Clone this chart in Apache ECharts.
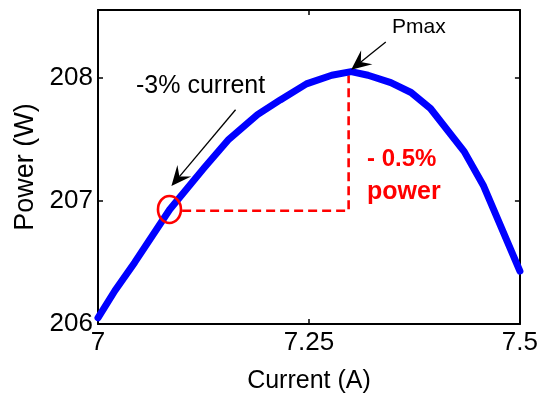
<!DOCTYPE html>
<html>
<head>
<meta charset="utf-8">
<script src="https://cdn.jsdelivr.net/npm/echarts@6/dist/echarts.min.js"></script>
<style>
html,body{margin:0;padding:0;background:#fff;}
#chart{width:541px;height:400px;}
</style>
</head>
<body>
<div id="chart"></div>
<script>
// ---- data ----
const currentA = [7.0, 7.02, 7.0435, 7.085, 7.126, 7.155, 7.189, 7.216, 7.247, 7.277, 7.30, 7.32, 7.347, 7.371, 7.394, 7.434, 7.457, 7.5];
const powerW   = [206.05, 206.27, 206.50, 206.93, 207.27, 207.50, 207.70, 207.82, 207.95, 208.02, 208.05, 208.02, 207.96, 207.88, 207.75, 207.40, 207.12, 206.43];
const xTicks = [7, 7.25, 7.5];
const yTicks = [206, 207, 208];
// annotation geometry (data units)
const pmaxArrow = [7.341, 208.29, 7.300, 208.065];
const currentArrow = [7.163, 207.74, 7.087, 207.12];
const operatingPoint = [7.0847, 206.93];
const guideX = [7.0997, 7.297, 7.297];
const guideY = [206.92, 206.92, 208.02];

const FONT = '"Liberation Sans", Arial, sans-serif';

const chart = echarts.init(document.getElementById('chart'), null, {renderer: 'canvas'});

const curve = currentA.map((c, i) => [c, powerW[i]]);
const guide = guideX.map((g, i) => [g, guideY[i]]);

function arrowRender(params, api) {
  const p1 = api.coord([api.value(0), api.value(1)]);
  const p2 = api.coord([api.value(2), api.value(3)]);
  const dx = p2[0] - p1[0], dy = p2[1] - p1[1];
  const len = Math.sqrt(dx*dx + dy*dy);
  const ux = dx/len, uy = dy/len, nx = -uy, ny = ux;
  const L = 20, W = 9, N = 0.62*L;
  const b1 = [p2[0] - ux*L + nx*W, p2[1] - uy*L + ny*W];
  const b2 = [p2[0] - ux*L - nx*W, p2[1] - uy*L - ny*W];
  const nb = [p2[0] - ux*N, p2[1] - uy*N];
  return {
    type: 'group',
    children: [
      {type: 'line', shape: {x1: p1[0], y1: p1[1], x2: nb[0], y2: nb[1]}, style: {stroke: '#000', lineWidth: 1.3}},
      {type: 'polygon', shape: {points: [p2, b1, nb, b2]}, style: {fill: '#000'}}
    ]
  };
}

const option = {
  animation: false,
  backgroundColor: '#fff',
  grid: {left: 98, right: 18, top: 10, bottom: 76, containLabel: false},
  xAxis: [{
    type: 'value', min: 7, max: 7.5, interval: 0.25, position: 'bottom',
    name: 'Current (A)', nameLocation: 'middle', nameGap: 45,
    nameTextStyle: {fontFamily: FONT, fontSize: 25, color: '#000'},
    axisLine: {show: true, lineStyle: {color: '#000', width: 2}},
    axisTick: {show: true, inside: true, length: 5, lineStyle: {color: '#000', width: 1.5}, customValues: xTicks},
    axisLabel: {fontFamily: FONT, fontSize: 26, color: '#000', margin: 6, customValues: xTicks},
    splitLine: {show: false}
  }, {
    type: 'value', min: 7, max: 7.5, interval: 0.25, position: 'top',
    axisLine: {show: true, lineStyle: {color: '#000', width: 2}},
    axisTick: {show: true, inside: true, length: 5, lineStyle: {color: '#000', width: 1.5}, customValues: xTicks},
    axisLabel: {show: false},
    splitLine: {show: false}
  }],
  yAxis: [{
    type: 'value', min: 206, max: 208.55, interval: 1, position: 'left',
    name: 'Power (W)', nameLocation: 'middle', nameGap: 59,
    nameTextStyle: {fontFamily: FONT, fontSize: 27, color: '#000'},
    axisLine: {show: true, lineStyle: {color: '#000', width: 2}},
    axisTick: {show: true, inside: true, length: 5, lineStyle: {color: '#000', width: 1.5}, customValues: yTicks},
    axisLabel: {fontFamily: FONT, fontSize: 26, color: '#000', margin: 5, padding: [5, 0, 0, 0], customValues: yTicks},
    splitLine: {show: false}
  }, {
    type: 'value', min: 206, max: 208.55, interval: 1, position: 'right',
    axisLine: {show: true, lineStyle: {color: '#000', width: 2}},
    axisTick: {show: true, inside: true, length: 5, lineStyle: {color: '#000', width: 1.5}, customValues: yTicks},
    axisLabel: {show: false},
    splitLine: {show: false}
  }],
  series: [
    {
      type: 'line', data: guide, symbol: 'none', silent: true,
      lineStyle: {color: '#ff0000', width: 2.6, type: [9, 5]}, z: 2
    },
    {
      type: 'line', data: curve, symbol: 'none', smooth: false, silent: true,
      lineStyle: {color: '#0000ff', width: 7, cap: 'round', join: 'round'}, z: 3
    },
    {
      type: 'custom', silent: true, z: 4,
      data: [operatingPoint],
      renderItem: function (params, api) {
        const p = api.coord([api.value(0), api.value(1)]);
        return {type: 'ellipse', shape: {cx: p[0], cy: p[1], rx: 11.5, ry: 13.5},
                style: {fill: 'none', stroke: '#ff0000', lineWidth: 2.6}};
      }
    },
    {
      type: 'custom', silent: true, z: 5,
      data: [pmaxArrow, currentArrow],
      renderItem: arrowRender
    }
  ],
  graphic: [
    {type: 'text', left: 392, top: 17, style: {text: 'Pmax', font: '21px ' + FONT, fill: '#000'}},
    {type: 'text', left: 136, top: 74, style: {text: '-3% current', font: '25px ' + FONT, fill: '#000'}},
    {type: 'text', left: 367, top: 147, style: {text: '- 0.5%', font: 'bold 24px ' + FONT, fill: '#ff0000'}},
    {type: 'text', left: 367, top: 180, style: {text: 'power', font: 'bold 25px ' + FONT, fill: '#ff0000'}}
  ]
};
chart.setOption(option);
</script>
</body>
</html>
